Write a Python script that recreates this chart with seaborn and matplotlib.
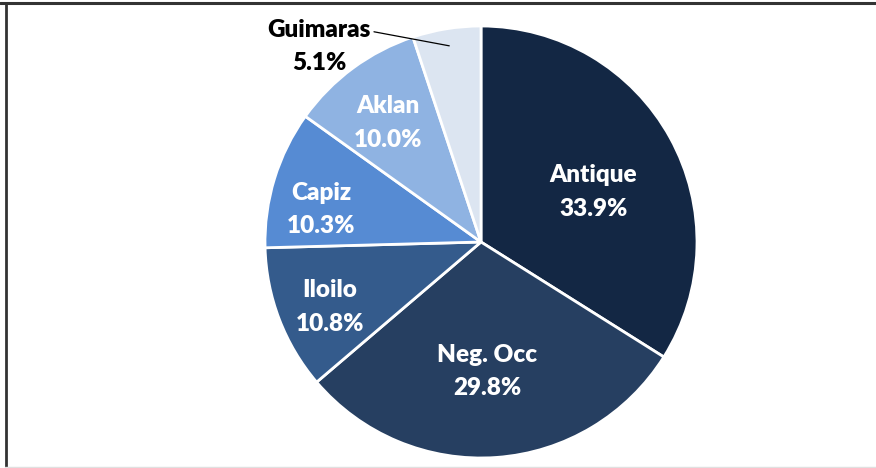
import matplotlib
matplotlib.use('Agg')
import matplotlib.pyplot as plt
import numpy as np
import seaborn as sns
from matplotlib.lines import Line2D

# Dados
provinces = ['Antique', 'Neg. Occ', 'Iloilo', 'Capiz', 'Aklan', 'Guimaras']
shares = [33.9, 29.8, 10.8, 10.3, 10.0, 5.1]
colors = ['#132744', '#263f61', '#345b8c', '#568bd3', '#8fb3e2', '#dce5f1']

sns.set_theme(style='white')
plt.rcParams['font.family'] = ['Lato', 'DejaVu Sans']

fig = plt.figure(figsize=(8.76, 4.68), dpi=100)
fig.patch.set_facecolor('white')

# Eixo do gráfico de pizza (centro ~ (481, 242) px, raio ~216 px)
W, H = 876, 468
cx, cy, r = 481, 242, 216
ax = fig.add_axes([(cx - r) / W, (H - cy - r) / H, 2 * r / W, 2 * r / H])

wedges, _ = ax.pie(shares, colors=sns.color_palette(colors), startangle=90,
                   counterclock=False, radius=1,
                   wedgeprops=dict(edgecolor='white', linewidth=2))
ax.set_xlim(-1, 1)
ax.set_ylim(-1, 1)
ax.set_aspect('equal')
ax.axis('off')

# Posição dos rótulos (em unidades do raio)
label_pos = [(0.52, 0.23), (0.03, -0.60), (-0.70, -0.30), (-0.74, 0.15), (-0.43, 0.55)]
for (x, y), name, val in zip(label_pos, provinces[:5], shares[:5]):
    ax.text(x, y, f'{name}\n{val:.1f}%',
            ha='center', va='center', color='white', fontsize=17.5,
            fontweight='heavy', linespacing=1.65)

# Guimaras fora da pizza com linha guia
w = wedges[5]
ang = np.deg2rad((w.theta1 + w.theta2) / 2)
ax.annotate(f'{provinces[5]}\n{shares[5]:.1f}%',
            xy=(0.92 * np.cos(ang), 0.92 * np.sin(ang)),
            xytext=(-0.75, 0.905), ha='center', va='center',
            fontsize=17.5, fontweight='heavy', color='black', linespacing=1.65,
            arrowprops=dict(arrowstyle='-', color='black', lw=0.9,
                            relpos=(0.93, 0.8), shrinkA=0, shrinkB=0),
            annotation_clip=False)

# Moldura
fig.add_artist(Line2D([0, 1], [1 - 3 / H, 1 - 3 / H], color='#333333', lw=2.2, transform=fig.transFigure))
fig.add_artist(Line2D([5.5 / W, 5.5 / W], [1.5 / H, 1 - 3 / H], color='#333333', lw=2, transform=fig.transFigure))
fig.add_artist(Line2D([5 / W, 1], [1.5 / H, 1.5 / H], color='#e0e0e0', lw=1, transform=fig.transFigure))

fig.savefig('out.png', dpi=100)
